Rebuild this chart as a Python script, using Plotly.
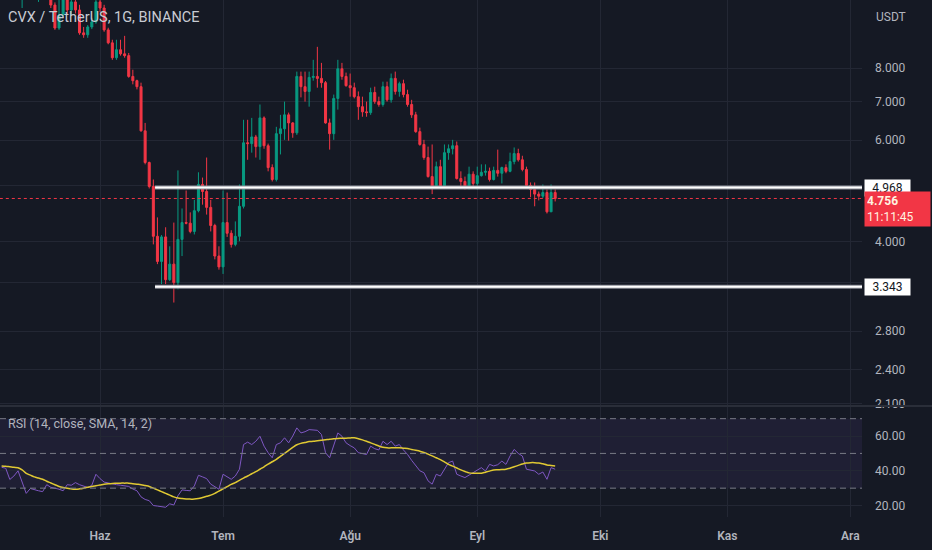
import math

import pandas as pd
import plotly.graph_objects as go
from plotly.subplots import make_subplots

BG = "#151924"
GRID = "#232734"
TEXT = "#B2B5BE"
UP = "#089981"
DOWN = "#F23645"
FONT = "Roboto"

# daily candles, 2022-05-08 .. 2022-09-20
start_date = "2022-05-08"

opens = [
    12.6, 12.1, 11.8, 12.2, 11.5, 11.1, 11.4, 11.7, 11.4, 11.0, 11.2, 11.0,
    10.8, 10.29, 9.39, 9.89, 10.5, 10.09, 10.42, 10.09, 9.21, 9.14, 9.43, 9.62,
    10.42, 10.17, 9.32, 8.85, 8.34, 8.61, 8.47, 8.41, 7.74, 7.61, 7.43, 6.23,
    5.49, 4.99, 4.09, 3.70, 4.08, 3.44, 3.66, 3.40, 4.04, 4.32, 4.31, 4.17,
    4.53, 5.03, 4.89, 4.59, 4.27, 3.78, 3.62, 4.32, 4.14, 3.96, 4.09, 4.61,
    5.94, 5.92, 6.08, 5.85, 6.56, 5.87, 5.38, 5.13, 6.16, 6.28, 6.64, 6.43,
    6.18, 7.74, 7.43, 7.29, 7.71, 7.74, 7.68, 7.55, 6.43, 6.16, 7.09, 7.98,
    7.74, 7.46, 7.40, 7.14, 6.86, 6.72, 6.70, 7.26, 7.00, 6.92, 7.43, 7.05,
    7.68, 7.29, 7.52, 7.20, 6.92, 6.64, 6.21, 5.90, 5.60, 5.19, 4.99, 5.40,
    4.99, 5.71, 5.80, 5.87, 5.15, 5.09, 4.99, 5.24, 5.05, 5.21, 5.28, 5.30,
    5.13, 5.32, 5.26, 5.38, 5.30, 5.51, 5.69, 5.55, 5.34, 5.01, 4.93, 4.84,
    4.80, 4.87, 4.51, 4.87,
]
highs = [
    12.9, 12.5, 12.4, 12.5, 11.9, 11.6, 12.0, 12.2, 11.8, 11.5, 11.7, 11.4,
    11.1, 10.4, 10.5, 10.9, 10.71, 10.71, 10.6, 10.3, 9.43, 9.5, 9.78, 10.71,
    10.71, 10.3, 9.4, 8.96, 8.96, 8.96, 9.10, 8.5, 7.95, 7.64, 7.55, 6.43,
    5.51, 5.13, 4.41, 4.11, 4.24, 3.93, 4.32, 5.32, 4.57, 4.91, 4.50, 4.73,
    5.28, 5.17, 5.60, 4.73, 4.30, 3.93, 4.91, 4.87, 4.19, 4.34, 5.03, 6.51,
    6.51, 6.56, 6.13, 6.92, 6.60, 5.92, 5.45, 6.33, 6.64, 7.00, 6.70, 6.45,
    7.89, 7.89, 7.89, 7.89, 8.27, 8.71, 8.17, 7.60, 6.54, 7.20, 8.27, 8.17,
    7.86, 7.83, 7.55, 7.29, 7.14, 7.00, 7.40, 7.43, 7.14, 7.58, 7.58, 7.83,
    7.89, 7.58, 7.64, 7.34, 7.05, 6.72, 6.31, 6.01, 5.85, 5.90, 5.51, 5.55,
    5.90, 5.90, 6.01, 5.97, 5.30, 5.19, 5.40, 5.30, 5.40, 5.45, 5.45, 5.38,
    5.40, 5.78, 5.40, 5.45, 5.71, 5.83, 5.80, 5.64, 5.40, 5.07, 5.07, 4.89,
    5.03, 4.93, 5.03, 4.93,
]
lows = [
    11.9, 11.6, 11.5, 11.3, 10.9, 10.17, 11.0, 11.2, 10.8, 10.42, 10.8, 10.6,
    10.17, 9.32, 9.32, 9.78, 9.89, 9.89, 9.95, 9.14, 9.03, 9.03, 9.35, 9.55,
    10.0, 9.25, 8.8, 8.27, 8.27, 8.41, 8.34, 7.7, 7.5, 7.35, 6.21, 5.45,
    4.95, 3.96, 3.66, 3.38, 3.38, 3.42, 3.14, 3.31, 3.78, 4.29, 4.14, 4.12,
    4.50, 4.64, 4.46, 4.17, 3.73, 3.58, 3.52, 4.08, 3.91, 3.93, 4.01, 4.57,
    5.55, 5.71, 5.60, 5.55, 5.80, 5.30, 5.09, 5.09, 5.67, 6.01, 5.99, 6.06,
    6.13, 7.12, 7.00, 6.86, 7.61, 7.40, 7.40, 6.41, 5.78, 6.01, 6.78, 7.64,
    7.43, 7.14, 7.09, 6.51, 6.59, 6.59, 6.64, 6.94, 6.86, 6.86, 7.00, 6.97,
    7.20, 7.14, 7.12, 6.86, 6.56, 6.18, 5.87, 5.55, 5.17, 4.84, 4.95, 4.97,
    4.95, 5.55, 5.67, 5.13, 4.97, 4.93, 4.93, 4.99, 4.93, 5.19, 5.21, 5.09,
    5.11, 5.19, 5.05, 5.26, 5.28, 5.45, 5.51, 5.30, 4.99, 4.78, 4.61, 4.72,
    4.76, 4.48, 4.51, 4.70,
]
closes = [
    12.1, 11.8, 12.2, 11.5, 11.1, 11.4, 11.7, 11.4, 11.0, 11.2, 11.0, 10.8,
    10.29, 9.39, 9.89, 10.5, 10.09, 10.42, 10.09, 9.21, 9.14, 9.43, 9.62, 10.42,
    10.17, 9.32, 8.85, 8.34, 8.61, 8.47, 8.41, 7.74, 7.61, 7.43, 6.23, 5.49,
    4.99, 4.09, 3.70, 4.08, 3.44, 3.66, 3.40, 4.04, 4.32, 4.31, 4.17, 4.53,
    5.03, 4.89, 4.59, 4.27, 3.78, 3.62, 4.32, 4.14, 3.96, 4.09, 4.61, 5.94,
    5.92, 6.08, 5.85, 6.56, 5.87, 5.38, 5.13, 6.16, 6.28, 6.64, 6.43, 6.18,
    7.74, 7.43, 7.29, 7.71, 7.74, 7.68, 7.55, 6.43, 6.16, 7.09, 7.98, 7.74,
    7.46, 7.40, 7.14, 6.86, 6.72, 6.70, 7.26, 7.00, 6.92, 7.43, 7.05, 7.68,
    7.29, 7.52, 7.20, 6.92, 6.64, 6.21, 5.90, 5.60, 5.19, 4.99, 5.40, 4.99,
    5.71, 5.80, 5.87, 5.15, 5.09, 4.99, 5.24, 5.05, 5.21, 5.28, 5.30, 5.13,
    5.32, 5.26, 5.38, 5.30, 5.51, 5.69, 5.55, 5.34, 5.01, 4.93, 4.84, 4.80,
    4.87, 4.51, 4.87, 4.756,
]
rsi = [
    42, 41.5, 35, 37, 40, 33, 27, 29.8, 29, 28.5, 28, 32,
    30.5, 30, 29.4, 28.5, 32, 31.7, 33.2, 32, 31, 30.4, 31.7, 38,
    35.5, 33.5, 33, 32.3, 32, 31.7, 31.3, 31, 29.5, 28.5, 25, 23.5,
    22.8, 20, 19.7, 19.5, 19, 21, 20.3, 25.6, 29, 28.7, 28.5, 31.3,
    37.4, 36.5, 35.5, 32.3, 31, 29.4, 38, 36.5, 35.1, 37, 40.9, 55.1,
    56.5, 55.1, 57, 59.9, 54.2, 50.4, 47.5, 55.1, 56.1, 59, 56.1, 60,
    64.7, 61.8, 62.5, 63.7, 63.5, 63.3, 60.9, 50.4, 47.5, 54.2, 61.8, 59.9,
    56.1, 54.5, 53.2, 50.4, 49.8, 49.4, 54.2, 52.7, 52, 57, 55.1, 57,
    54.2, 55.1, 52, 49.4, 46, 42.8, 40, 38.9, 34.2, 32.3, 38, 37,
    41, 44.7, 45.6, 38, 37, 36.1, 37.5, 38.9, 40.5, 41.8, 39.9, 43.7,
    42.8, 43.5, 45.6, 43.7, 48.5, 52.3, 50, 48.5, 40.9, 40.2, 39.9, 38,
    39.3, 35.1, 41.8, 40.9,
]
rsi_ma = [
    42.8, 42.6, 42.3, 42.0, 41.8, 40.5, 38.5, 37.5, 36.5, 35.8, 35.1, 34.0,
    33.0, 32.0, 31.0, 30.4, 30.0, 29.6, 29.4, 29.6, 30.0, 30.5, 31.0, 31.4,
    31.8, 32.2, 32.5, 32.7, 32.8, 32.9, 32.9, 32.9, 32.6, 32.3, 32.0, 31.5,
    31.0, 30.0, 29.0, 28.0, 27.0, 26.0, 25.0, 24.3, 24.0, 23.8, 23.7, 23.7,
    24.0, 24.6, 25.3, 26.0, 27.0, 28.3, 29.6, 30.9, 32.2, 33.2, 34.5, 35.8,
    37.0, 38.3, 39.5, 40.9, 42.3, 43.8, 45.2, 46.6, 48.3, 50.0, 51.8, 53.5,
    55.0, 55.8, 56.3, 56.8, 57.0, 57.3, 57.6, 57.9, 58.2, 58.4, 58.6, 58.7,
    58.8, 58.9, 59.0, 58.5, 57.8, 57.0, 56.1, 55.2, 54.3, 53.5, 53.2, 53.2,
    53.2, 53.2, 53.0, 52.8, 52.3, 51.8, 51.3, 50.5, 49.6, 48.6, 47.5, 46.4,
    45.1, 43.7, 42.7, 41.6, 40.5, 39.6, 38.8, 38.6, 38.6, 38.6, 39.2, 39.8,
    40.5, 40.6, 40.7, 40.9, 41.5, 42.3, 43.1, 43.9, 44.5, 44.7, 44.7, 44.5,
    44.0, 43.4, 43.1, 42.8,
]

month_ticks = ["2022-06-01", "2022-07-01", "2022-08-01", "2022-09-01",
               "2022-10-01", "2022-11-01", "2022-12-01"]
month_labels = ["Haz", "Tem", "Ağu", "Eyl", "Eki", "Kas", "Ara"]

# 3.4 and 5.0 grid lines exist but their labels sit under the level tags
price_ticks = [2.1, 2.4, 2.8, 3.4, 4.0, 5.0, 6.0, 7.0, 8.0]
price_labels = ["2.100", "2.400", "2.800", "", "4.000", "", "6.000", "7.000", "8.000"]
rsi_ticks = [20, 40, 60]

support = 3.343
resistance = 4.968
last_price = 4.756
level_start = "2022-06-14 10:00"

dates = pd.date_range(start_date, periods=len(closes), freq="D")
x_range = ["2022-05-07 14:30", "2022-12-03 20:00"]
far_left, far_right = "2022-04-20", "2022-12-20"

fig = make_subplots(rows=2, cols=1, shared_xaxes=True, vertical_spacing=0,
                    row_heights=[406, 111])

fig.add_trace(go.Candlestick(
    x=dates, open=opens, high=highs, low=lows, close=closes,
    increasing=dict(line=dict(color=UP, width=1), fillcolor=UP),
    decreasing=dict(line=dict(color=DOWN, width=1), fillcolor=DOWN),
    whiskerwidth=0, hoverinfo="skip",
), row=1, col=1)

# current price (dotted) and the two drawn levels
fig.add_trace(go.Scatter(x=[far_left, far_right], y=[last_price, last_price], mode="lines",
                         line=dict(color=DOWN, width=1, dash="dot"), hoverinfo="skip"),
              row=1, col=1)
for level in (resistance, support):
    fig.add_trace(go.Scatter(x=[level_start, far_right], y=[level, level], mode="lines",
                             line=dict(color="#8A8D96", width=4), hoverinfo="skip"),
                  row=1, col=1)
    fig.add_trace(go.Scatter(x=[level_start, far_right], y=[level, level], mode="lines",
                             line=dict(color="#FFFFFF", width=2), hoverinfo="skip"),
                  row=1, col=1)

fig.add_trace(go.Scatter(x=dates, y=rsi, mode="lines",
                         line=dict(color="#7E57C2", width=1), hoverinfo="skip"),
              row=2, col=1)
fig.add_trace(go.Scatter(x=dates, y=rsi_ma, mode="lines", line_shape="spline",
                         line=dict(color="#E0C933", width=1.5), hoverinfo="skip"),
              row=2, col=1)

axis_common = dict(type="date", range=x_range, tickvals=month_ticks, showgrid=True,
                   gridcolor=GRID, gridwidth=1, zeroline=False, showline=False, ticks="")
fig.update_xaxes(**axis_common, showticklabels=False, rangeslider=dict(visible=False), row=1, col=1)
fig.update_xaxes(**axis_common, ticktext=month_labels, showticklabels=True,
                 tickfont=dict(family=FONT, size=12, color=TEXT, weight=600),
                 ticklabelstandoff=10, row=2, col=1)

fig.update_yaxes(type="log", range=[math.log10(2.078), math.log10(10.50)], side="right",
                 tickvals=price_ticks, ticktext=price_labels,
                 tickfont=dict(family=FONT, size=12, color=TEXT), ticklabelstandoff=12,
                 showgrid=True, gridcolor=GRID, zeroline=False, ticks="", row=1, col=1)
fig.update_yaxes(range=[13.4, 77.3], side="right", tickvals=rsi_ticks,
                 ticktext=[f"{v:.2f}" for v in rsi_ticks],
                 tickfont=dict(family=FONT, size=12, color=TEXT), ticklabelstandoff=12,
                 showgrid=True, gridcolor=GRID, zeroline=False, ticks="", row=2, col=1)

shapes = [
    dict(type="rect", xref="paper", yref="y2", x0=0, x1=1, y0=30, y1=70,
         fillcolor="rgba(126,87,194,0.10)", line=dict(width=0), layer="below"),
]
for lvl in (70, 50, 30):
    shapes.append(dict(type="line", xref="paper", yref="y2", x0=0, x1=1, y0=lvl, y1=lvl,
                       line=dict(color="#787B86", width=1, dash="6px,4px")))
pane_split = 111 / 517
shapes.append(dict(type="line", xref="paper", yref="paper", x0=0, x1=1.09,
                   y0=pane_split, y1=pane_split, line=dict(color="#2A2E39", width=2)))

annotations = [
    dict(text="CVX / TetherUS, 1G, BINANCE", xref="paper", yref="paper", x=0, y=1,
         xanchor="left", yanchor="top", xshift=6, yshift=-7, showarrow=False,
         font=dict(family=FONT, size=14.5, color="#C8CBD3")),
    dict(text="USDT", xref="paper", yref="paper", x=1, y=1, xanchor="left", yanchor="top",
         xshift=12, yshift=-8, showarrow=False, font=dict(family=FONT, size=12, color=TEXT)),
    dict(text="RSI (14, close, SMA, 14, 2)", xref="paper", yref="y2", x=0, y=67.1,
         xanchor="left", yanchor="middle", xshift=6, showarrow=False,
         font=dict(family=FONT, size=12.5, color=TEXT)),
]
for level in (resistance, support):
    annotations.append(dict(text=f"{level:.3f}", xref="paper", yref="y",
                            x=1, y=math.log10(level), xanchor="left", yanchor="middle",
                            xshift=2, showarrow=False, bgcolor="#FFFFFF", borderpad=1,
                            width=43, font=dict(family=FONT, size=12, color="#131722")))
annotations.append(dict(text="<b>4.756</b><br>11:11:45", xref="paper", yref="y",
                        x=1, y=math.log10(last_price), xanchor="left", yanchor="top",
                        xshift=2, yshift=7, showarrow=False, bgcolor=DOWN, borderpad=2,
                        width=61, align="left",
                        font=dict(family=FONT, size=12, color="#FFF3E0")))

fig.update_layout(
    width=932, height=550,
    margin=dict(l=0, r=70, t=0, b=33),
    paper_bgcolor=BG, plot_bgcolor=BG,
    showlegend=False, hovermode=False,
    shapes=shapes, annotations=annotations,
    font=dict(family=FONT, color=TEXT),
)

fig.write_html("out.html", config={"displayModeBar": False},
               post_script="document.body.style.margin='0px';"
                           "document.body.style.background='" + BG + "';")
